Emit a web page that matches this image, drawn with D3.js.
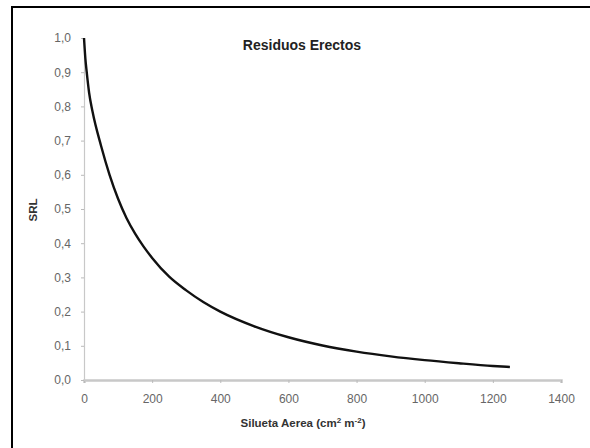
<!DOCTYPE html>
<html><head><meta charset="utf-8">
<script src="https://cdn.jsdelivr.net/npm/d3@7"></script>
<style>body{margin:0;background:#fff}svg{display:block}</style>
</head><body><svg id="c" width="590" height="448"></svg>
<script>
const xValues = [0, 4, 8, 15, 25, 50, 75, 100, 125, 150, 175, 200, 250, 300, 350, 400, 500, 600, 700, 800, 900, 1000, 1100, 1200, 1250];
const srlValues = [1.0, 0.94, 0.90, 0.84, 0.785, 0.685, 0.60, 0.53, 0.473, 0.428, 0.39, 0.357, 0.302, 0.262, 0.228, 0.200, 0.157, 0.125, 0.101, 0.083, 0.069, 0.058, 0.049, 0.041, 0.038];
const xTicks = [0, 200, 400, 600, 800, 1000, 1200, 1400];
const yTicks = [0, 0.1, 0.2, 0.3, 0.4, 0.5, 0.6, 0.7, 0.8, 0.9, 1.0];
const title = "Residuos Erectos";
const yTitle = "SRL";

const svg = d3.select("#c");
svg.append("rect").attr("x",12).attr("y",7).attr("width",600).attr("height",460)
  .attr("fill","#fff").attr("stroke","#000").attr("stroke-width",2);

const x = d3.scaleLinear().domain([0,1400]).range([84,561]);
const y = d3.scaleLinear().domain([0,1]).range([380,38]);
const fmt = d => d3.format(".1f")(d).replace(".", ",");

const gx = svg.append("g").attr("transform","translate(0,380)")
  .call(d3.axisBottom(x).tickValues(xTicks).tickSize(3).tickPadding(11).tickFormat(d3.format("d")));
gx.select(".domain").attr("stroke","#c8c8c8").attr("stroke-width",2.5);
gx.selectAll(".tick line").attr("stroke","#bbb");
gx.selectAll("text").attr("fill","#666").style("font-family","Liberation Sans, Arial, sans-serif").style("font-size","12px");

const gy = svg.append("g").attr("transform","translate(84,0)")
  .call(d3.axisLeft(y).tickValues(yTicks).tickSize(3).tickPadding(10).tickFormat(fmt));
gy.select(".domain").attr("stroke","#c8c8c8").attr("stroke-width",1.2);
gy.selectAll(".tick line").attr("stroke","#bbb");
gy.selectAll("text").attr("fill","#666").style("font-family","Liberation Sans, Arial, sans-serif").style("font-size","12px");

const pts = xValues.map((d,i)=>[d, srlValues[i]]);
svg.append("path").datum(pts)
  .attr("d", d3.line().x(d=>x(d[0])).y(d=>y(d[1])).curve(d3.curveMonotoneX))
  .attr("fill","none").attr("stroke","#111").attr("stroke-width",2.4);

svg.append("text").attr("x",302).attr("y",50).attr("text-anchor","middle")
  .style("font-family","Liberation Sans, Arial, sans-serif").style("font-size","14px").style("font-weight","bold")
  .attr("fill","#222").text(title);

const xt = svg.append("text").attr("x",303).attr("y",427).attr("text-anchor","middle")
  .style("font-family","Liberation Sans, Arial, sans-serif").style("font-size","11.5px").style("font-weight","bold")
  .attr("fill","#333");
xt.append("tspan").text("Silueta Aerea (cm");
xt.append("tspan").attr("dy",-4).style("font-size","8px").text("2");
xt.append("tspan").attr("dy",4).text(" m");
xt.append("tspan").attr("dy",-4).style("font-size","8px").text("-2");
xt.append("tspan").attr("dy",4).text(")");

svg.append("text").attr("transform","translate(37,210) rotate(-90)").attr("text-anchor","middle")
  .style("font-family","Liberation Sans, Arial, sans-serif").style("font-size","11.5px").style("font-weight","bold")
  .attr("fill","#333").text(yTitle);
</script></body></html>
